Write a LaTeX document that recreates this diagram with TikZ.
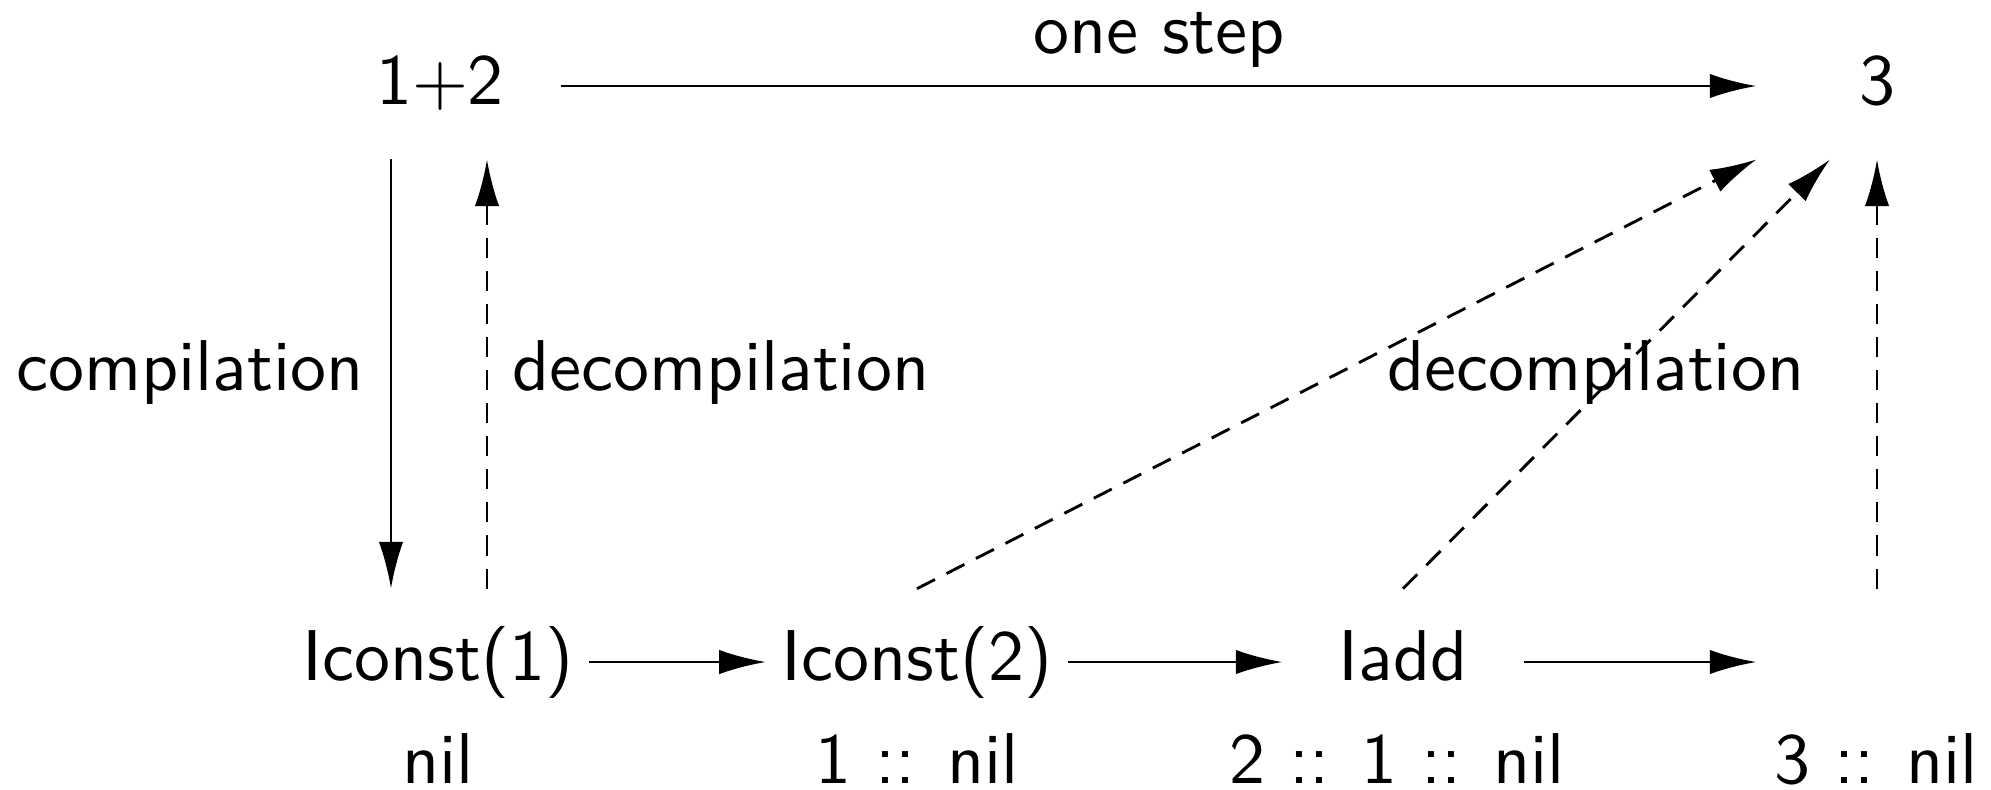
\documentclass[tikz,border=0pt]{standalone}
\usepackage{fontspec}
\usetikzlibrary{arrows.meta,calc}
\begin{document}
\begin{tikzpicture}[x=0.139pt,y=-0.139pt,
  every node/.style={font=\sffamily\fontsize{10}{12}\selectfont},
  obj/.style={minimum width=33.1pt, minimum height=20pt, inner sep=2pt, text height=7.5pt, text depth=2.5pt},
  lbl/.style={anchor=base, inner sep=0pt},
  arr/.style={-{Latex[length=6.5pt,width=3.4pt]}, line width=0.4pt},
  darr/.style={arr, dash pattern=on 2.8pt off 1.8pt}]
\useasboundingbox (0,0) rectangle (1991,789);
% objects
\node[obj] (e)  at (440,86)   {1+2};
\node[obj] (v)  at (1877,86)  {3};
\node[obj] (c1) at (438,662)  {Iconst(1)};
\node[obj] (c2) at (917,662)  {Iconst(2)};
\node[obj] (ad) at (1403,662) {Iadd};
\node[obj] (en) at (1877,662) {};
% connectors
\draw[arr] (e) -- (v);
\draw[arr] ($(e.south)+(-49,0)$) -- ($(c1.north)+(-47,0)$);
\draw[darr] ($(c1.north)+(49,0)$) -- ($(e.south)+(47,0)$);
\draw[darr] (c2.north) -- (v.south west);
\draw[darr] (ad.north) -- ($(v.south)+(-47,0)$);
\draw[darr] (en.north) -- (v.south);
\draw[arr] (c1) -- (c2);
\draw[arr] (c2) -- (ad);
\draw[arr] (ad) -- (en);
% labels
\node[lbl] (los) at (1159,53)  {one step};
\node[lbl] (lc)  at (190,390)  {compilation};
\node[lbl] (ld1) at (721,390)  {decompilation};
\node[lbl] (ld2) at (1596,390) {decompilation};
\node[lbl] (s1)  at (438,783)  {nil};
\node[lbl] (s2)  at (917,783)  {1 :: nil};
\node[lbl] (s3)  at (1397,783) {2 :: 1 :: nil};
\node[lbl] (s4)  at (1876,783) {3 :: nil};
\end{tikzpicture}
\end{document}
